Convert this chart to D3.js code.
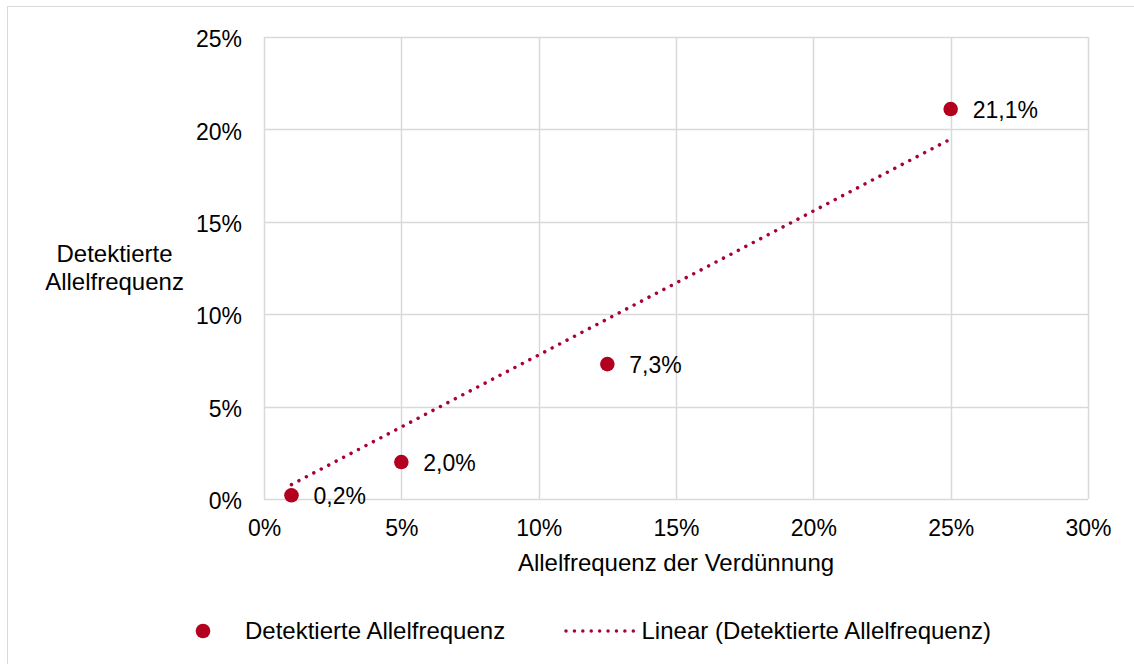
<!DOCTYPE html>
<html lang="de">
<head>
<meta charset="utf-8">
<script src="https://cdn.jsdelivr.net/npm/d3@7"></script>
<style>
  html, body { margin: 0; padding: 0; background: #fff; }
  svg { display: block; }
  text { font-family: "Liberation Sans", Arial, sans-serif; fill: #000; }
</style>
</head>
<body>
<svg id="chart" width="1134" height="664"></svg>
<script>
// Verdünnungsreihe: eingestellte vs. detektierte Allelfrequenz
const dilution = [0.01, 0.05, 0.125, 0.25];
const detected = [0.002, 0.020, 0.073, 0.211];
const xTicks = [0, 0.05, 0.10, 0.15, 0.20, 0.25, 0.30];
const yTicks = [0, 0.05, 0.10, 0.15, 0.20, 0.25];
const seriesName = "Detektierte Allelfrequenz";
const trendName = "Linear (Detektierte Allelfrequenz)";
const xTitle = "Allelfrequenz der Verdünnung";
const yTitleLines = ["Detektierte", "Allelfrequenz"];

const de = d3.formatLocale({ decimal: ",", thousands: ".", grouping: [3], currency: ["", " €"] });
const fmtTick = de.format(".0%");
const fmtLabel = de.format(".1%");

const W = 1134, H = 664;
const plot = { left: 264, right: 1088, top: 37, bottom: 499 };
const markerColor = "#b3001e";
const trendColor = "#a8003a";
const gridColor = "#d9d9d9";
const tickSize = 23;   // tick and data labels
const titleSize = 24;  // axis titles and legend

const svg = d3.select("#chart");

// outer chart frame
svg.append("rect")
  .attr("x", 7.5).attr("y", 6.5)
  .attr("width", W).attr("height", H)
  .attr("fill", "#fff").attr("stroke", gridColor).attr("stroke-width", 1);

const x = d3.scaleLinear().domain([0, 0.30]).range([plot.left, plot.right]);
const y = d3.scaleLinear().domain([0, 0.25]).range([plot.bottom, plot.top]);

// gridlines
const grid = svg.append("g");
grid.selectAll("line.v").data(xTicks).join("line")
  .attr("x1", d => Math.round(x(d)) + 0.5).attr("x2", d => Math.round(x(d)) + 0.5)
  .attr("y1", plot.top).attr("y2", plot.bottom)
  .attr("stroke", gridColor).attr("stroke-width", 1.5);
grid.selectAll("line.h").data(yTicks).join("line")
  .attr("y1", d => Math.round(y(d)) + 0.5).attr("y2", d => Math.round(y(d)) + 0.5)
  .attr("x1", plot.left).attr("x2", plot.right)
  .attr("stroke", gridColor).attr("stroke-width", 1.5);

// axes (labels only, lines come from the grid)
const xAxis = svg.append("g")
  .attr("transform", `translate(0,${plot.bottom + 37})`)
  .call(d3.axisBottom(x).tickValues(xTicks).tickFormat(fmtTick).tickSize(0).tickPadding(0));
const yAxis = svg.append("g")
  .attr("transform", `translate(${plot.left - 22},0)`)
  .call(d3.axisLeft(y).tickValues(yTicks).tickFormat(fmtTick).tickSize(0).tickPadding(0));
[xAxis, yAxis].forEach(g => {
  g.select(".domain").remove();
  g.selectAll("text")
    .style("font-family", '"Liberation Sans", Arial, sans-serif')
    .style("font-size", tickSize + "px")
    .attr("fill", "#000");
});
yAxis.selectAll("text").attr("dy", "0.42em");
xAxis.selectAll("text").attr("dy", 0);

// axis titles
svg.append("text")
  .attr("x", (plot.left + plot.right) / 2)
  .attr("y", 571)
  .attr("text-anchor", "middle")
  .style("font-size", titleSize + "px")
  .text(xTitle);
const yt = svg.append("text")
  .attr("text-anchor", "middle")
  .style("font-size", titleSize + "px");
yt.selectAll("tspan").data(yTitleLines).join("tspan")
  .attr("x", 114.5)
  .attr("y", (d, i) => 262 + i * 27.5)
  .text(d => d);

// linear trendline through the origin (least squares, intercept fixed at 0)
const sxy = d3.sum(dilution, (d, i) => d * detected[i]);
const sxx = d3.sum(dilution, d => d * d);
const slope = sxy / sxx;
const xExt = d3.extent(dilution);
const trendPts = xExt.map(v => [v, slope * v]);
const dotted = { width: 3.5, dash: "0.01 8.4" };
svg.append("path")
  .datum(trendPts)
  .attr("d", d3.line().x(d => x(d[0])).y(d => y(d[1])))
  .attr("fill", "none")
  .attr("stroke", trendColor)
  .attr("stroke-width", dotted.width)
  .attr("stroke-linecap", "round")
  .attr("stroke-dasharray", dotted.dash);

// data points
const pts = dilution.map((d, i) => ({ x: d, y: detected[i] }));
svg.append("g").selectAll("circle").data(pts).join("circle")
  .attr("cx", d => x(d.x)).attr("cy", d => y(d.y))
  .attr("r", 7.3)
  .attr("fill", markerColor);

// data labels
svg.append("g").selectAll("text").data(pts).join("text")
  .attr("x", d => x(d.x) + 22)
  .attr("y", d => y(d.y))
  .attr("dy", "0.37em")
  .style("font-size", tickSize + "px")
  .text(d => fmtLabel(d.y));

// legend
const leg = svg.append("g");
leg.append("circle").attr("cx", 203).attr("cy", 631).attr("r", 7.3).attr("fill", markerColor);
leg.append("text").attr("x", 245).attr("y", 639).style("font-size", titleSize + "px").text(seriesName);
leg.append("line")
  .attr("x1", 566).attr("x2", 634).attr("y1", 631).attr("y2", 631)
  .attr("stroke", trendColor)
  .attr("stroke-width", dotted.width)
  .attr("stroke-linecap", "round")
  .attr("stroke-dasharray", dotted.dash);
leg.append("text").attr("x", 641.5).attr("y", 639).style("font-size", titleSize + "px").text(trendName);
</script>
</body>
</html>
